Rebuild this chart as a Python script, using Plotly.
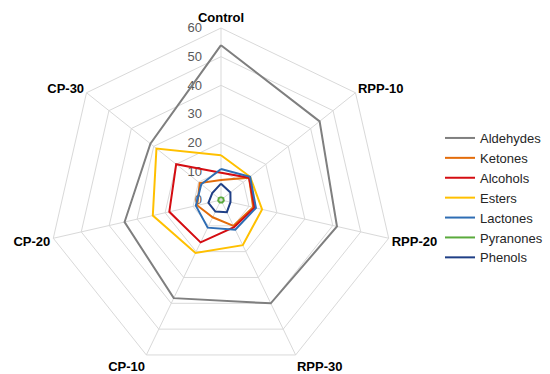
import plotly.graph_objects as go

categories = ["Control", "RPP-10", "RPP-20", "RPP-30", "CP-10", "CP-20", "CP-30"]

aldehydes = [54, 44, 41.5, 40, 38, 34.5, 31.5]
ketones = [7, 12.5, 11.5, 10, 6.7, 8.5, 9.5]
alcohols = [9.5, 12.5, 12, 10.5, 16.4, 18.5, 20]
esters = [15.6, 13, 14.7, 17.5, 20.5, 24.4, 28.8]
lactones = [10.8, 13, 12.5, 11.5, 10.7, 9, 8.8]
pyranones = [1, 1, 1, 1, 1, 1, 1]
phenols = [5.7, 4.2, 3.4, 4.7, 4.5, 4.5, 3.9]

radial_ticks = [0, 10, 20, 30, 40, 50, 60]

series = [
    ("Aldehydes", aldehydes, "#7f7f7f"),
    ("Ketones", ketones, "#e36c0a"),
    ("Alcohols", alcohols, "#d40d12"),
    ("Esters", esters, "#ffc000"),
    ("Lactones", lactones, "#2e6db4"),
    ("Pyranones", pyranones, "#5aaa3c"),
    ("Phenols", phenols, "#1f3f86"),
]

fig = go.Figure()
for name, vals, color in series:
    fig.add_trace(go.Scatterpolar(
        r=vals + vals[:1],
        theta=categories + categories[:1],
        mode="lines",
        name=name,
        line=dict(color=color, width=2),
        hoverinfo="skip",
    ))

W, H = 550, 374
grid = "#d9d9d9"
fig.update_layout(
    width=W, height=H,
    margin=dict(l=0, r=0, t=0, b=0, autoexpand=False),
    paper_bgcolor="white",
    plot_bgcolor="white",
    font=dict(family="Liberation Sans, Arial, sans-serif"),
    polar=dict(
        domain=dict(x=[49 / W, 393 / W], y=[1 - 372 / H, 1 - 28 / H]),
        bgcolor="white",
        gridshape="linear",
        angularaxis=dict(
            type="category",
            categoryarray=categories,
            direction="clockwise",
            rotation=90,
            showgrid=True,
            gridcolor=grid,
            gridwidth=1,
            showline=True,
            linecolor=grid,
            linewidth=1,
            ticks="",
            tickfont=dict(size=13, color="#000000", family="Liberation Sans, Arial, sans-serif", weight="bold"),
        ),
        radialaxis=dict(
            range=[0, 60],
            tickvals=radial_ticks,
            ticktext=[str(v) for v in radial_ticks],
            angle=90,
            tickangle=90,
            side="counterclockwise",
            showline=False,
            showgrid=True,
            gridcolor=grid,
            gridwidth=1,
            ticks="outside",
            ticklen=14,
            tickcolor="rgba(0,0,0,0)",
            layer="below traces",
            tickfont=dict(size=13, color="#595959"),
        ),
    ),
    legend=dict(
        xref="container", yref="container",
        x=440 / W, y=1 - 123 / H,
        xanchor="left", yanchor="top",
        font=dict(size=13, color="#262626"),
        bgcolor="rgba(0,0,0,0)",
        itemwidth=30,
        tracegroupgap=0,
    ),
    showlegend=True,
)

fig.write_html(
    "out.html",
    config={"displayModeBar": False},
    post_script="document.body.style.margin='0';",
)
